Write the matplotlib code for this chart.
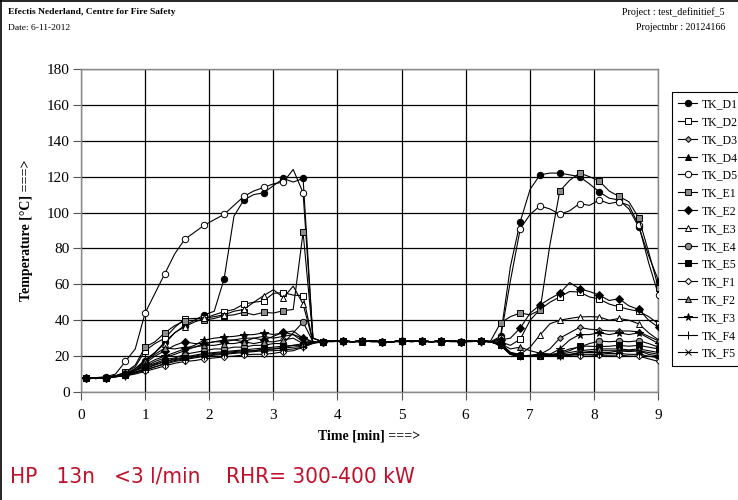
import matplotlib
matplotlib.use("Agg")
import matplotlib.pyplot as plt
from matplotlib.lines import Line2D
from matplotlib import font_manager
from matplotlib.font_manager import FontProperties
import numpy as np

# time axis [min]
time = [0.076, 0.23, 0.384, 0.538, 0.692, 0.846, 1.0, 1.154, 1.308, 1.462,
        1.616, 1.77, 1.924, 2.078, 2.232, 2.386, 2.54, 2.694, 2.848, 3.002,
        3.156, 3.31, 3.464, 3.618, 3.772, 3.926, 4.08, 4.234, 4.388, 4.542,
        4.696, 4.85, 5.004, 5.158, 5.312, 5.466, 5.62, 5.774, 5.928, 6.082,
        6.236, 6.39, 6.544, 6.698, 6.852, 7.006, 7.16, 7.314, 7.468, 7.622,
        7.776, 7.93, 8.084, 8.238, 8.392, 8.546, 8.7, 8.854, 9.008]

TK_D1 = [8, 8, 8, 9, 10, 12, 17, 22, 28, 33, 37, 40, 43, 45, 63, 98, 107, 110, 111, 115, 119, 117, 119, 30,
         28, 28.5, 28.5, 28, 28.5, 28.5, 28, 28, 28.5, 28.5, 28.5, 28, 28.5, 28.5, 28, 28.5, 28.5, 28,
         31, 70, 95, 113, 121, 122, 122, 121, 120, 116, 111.5, 108, 107, 102, 92, 76, 62]
TK_D2 = [8, 8, 8, 9, 11, 14, 23, 27, 30, 36, 40.7, 41, 41, 43, 44.8, 46, 49, 50, 50.7, 55, 55.4, 54, 53.7, 28,
         28, 28.5, 28.5, 28, 28.5, 28.5, 28, 28, 28.5, 28.5, 28.5, 28, 28.5, 28.5, 28, 28.5, 28.5, 28,
         28, 26, 29.5, 40, 46, 50, 53, 56, 55.7, 53, 51.8, 49, 47.5, 46, 45, 42, 38]
TK_D3 = [8, 7.5, 8, 8.5, 9.5, 11, 12.5, 14, 16, 17.5, 18.5, 19.5, 20, 21, 21.5, 22, 22.5, 23, 23.5, 24, 24.5, 25, 25.5, 28,
         28, 28.5, 28, 28, 28.5, 28, 28, 28, 28.5, 28.5, 28, 28, 28.5, 28.5, 28, 28.5, 28, 28,
         27, 22, 20, 20, 21, 24, 30, 33, 36, 35, 34.6, 34, 34, 34, 33.6, 31, 28.5]
TK_D4 = [8, 7.5, 8, 8.5, 9.5, 11, 13, 15.5, 17, 18.5, 19.5, 20.5, 21.5, 22, 22.5, 23, 23.5, 24, 24.5, 25, 25.5, 26, 27, 28,
         28, 28.5, 28.5, 28, 28, 28.5, 28, 28, 28.5, 28, 28.5, 28, 28, 28.5, 28, 28.5, 28.5, 28,
         26, 21, 20, 20, 21.6, 21, 20.5, 21, 22, 22.5, 23, 23, 23, 23, 23, 22, 21]
TK_D5 = [8, 8, 8.5, 10, 17, 24, 44, 55, 66, 77, 85, 89, 93, 96, 99, 104, 109, 112, 114, 116, 117, 124, 111, 30,
         28, 28.5, 28.5, 28, 28.5, 28.5, 28, 28, 28.5, 28.5, 28.5, 28, 28.5, 28.5, 28, 28.5, 28.5, 28,
         30, 62, 91, 99, 103.7, 102, 99, 101, 105, 104, 107, 105, 106, 104, 93, 72, 54]
TK_E1 = [8, 8, 8, 9, 11, 15, 25, 28, 33, 37, 39.6, 40, 40, 41, 42.5, 43, 44.4, 43, 44.4, 44, 45.3, 46, 89, 30,
         28, 28.5, 28.5, 28, 28.5, 28.5, 28, 28, 28.5, 28.5, 28.5, 28, 28.5, 28.5, 28, 28.5, 28.5, 28.5,
         38.5, 42, 44, 43, 45.7, 82, 112, 118, 122, 120, 117.6, 112, 109, 106, 97, 78, 58]
TK_E2 = [8, 8, 8, 9, 10, 12, 16, 20, 23, 26, 28, 27, 27, 28, 28, 29, 28, 30, 29, 31, 33.3, 32, 30, 28,
         28, 28.5, 28.5, 28, 28.5, 28.5, 28, 28, 28.5, 28.5, 28.5, 28, 28.5, 28.5, 28, 28.5, 28.5, 28,
         29, 30, 35.7, 44, 48.5, 52, 55, 61, 57.5, 56, 54, 51, 52, 48, 46, 40, 36]
TK_E3 = [8, 8, 8, 9, 10, 13, 18, 22, 27, 33, 36.4, 39, 41, 42, 43, 45, 46, 50, 53.7, 57, 52.6, 59, 49, 28,
         28, 28.5, 28.5, 28, 28.5, 28.5, 28, 28, 28.5, 28.5, 28.5, 28, 28.5, 28.5, 28, 28.5, 28.5, 28,
         27, 22, 21, 25, 31.8, 38, 40, 41, 41.8, 42, 41.8, 40, 41, 40, 38, 33, 29]
TK_E4 = [8, 8, 8, 9, 10, 12, 14, 16, 18, 19, 21, 22, 23, 24, 24, 25, 25, 26, 26, 27, 27, 33, 39, 28,
         28, 28.5, 28.5, 28, 28.5, 28.5, 28, 28, 28.5, 28.5, 28.5, 28, 28.5, 28.5, 28, 28.5, 28.5, 28,
         27, 22, 20.5, 20, 20, 20.5, 22, 24, 25, 27, 28.4, 28, 28.4, 28, 28.6, 27, 25]
TK_E5 = [8, 7.5, 8, 8.5, 9.5, 11, 13, 15, 17, 18, 19, 20, 21, 21.5, 22, 22.5, 23, 23, 24, 24, 25, 26, 26, 27.5,
         28, 28.5, 28.5, 28, 28.5, 28.5, 28, 28, 28.5, 28.5, 28.5, 28, 28.5, 28.5, 28, 28.5, 28.5, 28,
         27, 21, 20, 20, 20, 20.5, 21.5, 23, 25.6, 25.5, 25.3, 25.5, 26, 25.5, 26, 25, 24]
TK_F1 = [8, 7.5, 8, 8.5, 9, 10, 11.5, 13, 14.5, 16, 17, 17.5, 18.4, 19, 19.5, 20, 20.6, 21, 21, 21.5, 22.5, 23, 25, 27,
         28, 28, 28.5, 28, 28, 28.5, 28, 28, 28, 28.5, 28, 28, 28.5, 28, 28, 28, 28.5, 28,
         26, 21, 20, 20, 20, 20, 20.2, 20, 20, 20, 20.5, 20.5, 20.6, 20, 20, 18.5, 17]
TK_F2 = [8, 8, 8, 9, 10, 13, 17, 21, 24.5, 24, 25, 25, 26, 26, 27, 27, 28, 27, 28, 28, 29, 30, 27, 28,
         28, 28.5, 28.5, 28, 28.5, 28.5, 28, 28, 28.5, 28.5, 28.5, 28, 28.5, 28.5, 28, 28.5, 28.5, 28,
         27, 24, 25, 23, 21.6, 21, 21, 22, 23, 23.5, 24, 24, 24, 23.5, 24, 23, 22]
TK_F3 = [8, 8, 8, 9, 10, 12, 15, 18, 20, 22, 24, 26, 29, 30, 30.6, 31, 31.8, 32, 33, 32, 33, 34, 30, 28,
         28, 28.5, 28.5, 28, 28.5, 28.5, 28, 28, 28.5, 28.5, 28.5, 28, 28.5, 28.5, 28, 28.5, 28.5, 28,
         26, 21, 20, 20, 20.5, 21, 24, 29, 32, 32, 33, 32, 33, 32, 33, 30, 27]
TK_F4 = [8, 7.5, 8, 8.5, 9, 10.5, 12, 14, 15.5, 17, 18, 19, 20, 20.5, 21, 21.5, 22, 22.5, 23, 23, 23.5, 24, 25, 27.5,
         28, 28.5, 28, 28, 28.5, 28, 28, 28, 28.5, 28, 28.5, 28, 28, 28.5, 28, 28.5, 28, 28,
         26, 21, 20, 20.5, 21, 20.5, 20.2, 20.5, 21, 21, 21, 21.5, 21.5, 21, 21, 20, 19]
TK_F5 = [8, 8, 8, 9, 10, 12, 14, 17, 19, 21, 23, 25, 27, 28, 29, 29, 30, 30, 31, 30, 31, 32, 28, 28,
         28, 28.5, 28.5, 28, 28.5, 28.5, 28, 28, 28.5, 28.5, 28.5, 28, 28.5, 28.5, 28, 28.5, 28.5, 28,
         26, 21.5, 20, 20, 20.5, 20, 20, 20.5, 22, 22, 22, 22, 23, 22.5, 23, 21, 20]

series_names = ["TK_D1", "TK_D2", "TK_D3", "TK_D4", "TK_D5", "TK_E1", "TK_E2", "TK_E3",
                "TK_E4", "TK_E5", "TK_F1", "TK_F2", "TK_F3", "TK_F4", "TK_F5"]
series_values = [TK_D1, TK_D2, TK_D3, TK_D4, TK_D5, TK_E1, TK_E2, TK_E3,
                 TK_E4, TK_E5, TK_F1, TK_F2, TK_F3, TK_F4, TK_F5]

x_ticks = [0, 1, 2, 3, 4, 5, 6, 7, 8, 9]
y_ticks = [0, 20, 40, 60, 80, 100, 120, 140, 160, 180]

GRAY = "#8c8c8c"
# (marker, facecolor, size)
styles = [
    ("o", "black", 4.6),
    ("s", "white", 4.6),
    ("D", "#a0a0a0", 3.0),
    ("^", "black", 4.8),
    ("o", "white", 4.6),
    ("s", GRAY, 4.6),
    ("D", "black", 3.6),
    ("^", "white", 4.8),
    ("o", GRAY, 4.6),
    ("s", "black", 4.6),
    ("D", "white", 3.2),
    ("^", GRAY, 4.8),
    ("*", "black", 5.5),
    ("+", "black", 5.5),
    ("x", "black", 4.5),
]

serif = ["Liberation Serif", "DejaVu Serif"]

fig = plt.figure(figsize=(7.38, 5.0), dpi=100)
ax = fig.add_axes([81 / 738, 1 - 392 / 500, (658 - 81) / 738, (392 - 69) / 500])

handles = []
for name, vals, (mk, fc, ms) in zip(series_names, series_values, styles):
    ln, = ax.plot(time, vals, color="black", lw=0.8, marker=mk, markersize=ms,
                  markerfacecolor=fc, markeredgecolor="black", markeredgewidth=0.7,
                  markevery=2, label=name, zorder=3)
    handles.append(ln)

ax.set_xlim(0, 9)
ax.set_ylim(0, 180)
ax.set_xticks(x_ticks)
ax.set_yticks(y_ticks)
ax.grid(True, color="black", lw=0.9)
ax.set_axisbelow(True)
for sp in ax.spines.values():
    sp.set_color("#888888")
    sp.set_linewidth(1.0)
ax.tick_params(axis="both", direction="out", length=6, width=0.8, color="#555555",
               labelsize=11)
ax.tick_params(axis="y", pad=2)
ax.tick_params(axis="x", pad=6)
for lbl in ax.get_xticklabels() + ax.get_yticklabels():
    lbl.set_family(serif)

ax.set_xlabel("Time [min] ===>", family=serif, fontweight="bold", fontsize=10, labelpad=6)
ax.set_ylabel("Temperature [\u00b0C] ===>", family=serif, fontweight="bold", fontsize=10, labelpad=10)

leg = fig.legend(handles=handles, loc="upper left", bbox_to_anchor=(672 / 738, 1 - 92 / 500),
                 prop={"family": serif, "size": 8.5}, frameon=True, fancybox=False,
                 edgecolor="black", framealpha=1, handlelength=1.6, handletextpad=0.4,
                 labelspacing=0.49, borderpad=0.55, borderaxespad=0)
leg.get_frame().set_linewidth(0.8)

# header
fig.text(8 / 738, 1 - 12 / 500, "Efectis Nederland, Centre for Fire Safety", family=serif,
         fontweight="bold", fontsize=6.8, va="center", ha="left")
fig.text(8 / 738, 1 - 28 / 500, "Date: 6-11-2012", family=serif, fontsize=6.8, va="center", ha="left")
fig.text(622 / 738, 1 - 12 / 500, "Project : test_definitief_5", family=serif, fontsize=7.2,
         va="center", ha="left")
fig.text(636 / 738, 1 - 28 / 500, "Projectnbr : 20124166", family=serif, fontsize=7.2,
         va="center", ha="left")

# page border (left and top)
fig.add_artist(Line2D([0.001, 0.001], [0, 1], transform=fig.transFigure, color="black", lw=1.2))
fig.add_artist(Line2D([0, 1], [0.999, 0.999], transform=fig.transFigure, color="black", lw=1.2))

# red annotation: prefer a condensed sans font if one is installed
cond_fp = None
for f in font_manager.fontManager.ttflist:
    nm = f.name.lower()
    st = str(f.stretch).lower()
    if f.style == "normal" and str(f.weight) in ("400", "normal", "regular", "book") and \
            ("narrow" in nm or "condensed" in nm or "condensed" in st or st in ("75", "62", "62.5")):
        cond_fp = FontProperties(fname=f.fname)
        break
if cond_fp is None:
    cond_fp = FontProperties(family=["Roboto", "DejaVu Sans"])
note = "HP   13n   <3 l/min    RHR= 300-400 kW"
t = fig.text(10 / 738, 1 - 476 / 500, note, fontproperties=cond_fp, fontsize=24,
             color="#c0102a", va="center", ha="left")
fig.canvas.draw()
w = t.get_window_extent().width
target = 405.0
if w > target:
    t.set_fontsize(24 * target / w)

fig.savefig("out.png", dpi=100)
